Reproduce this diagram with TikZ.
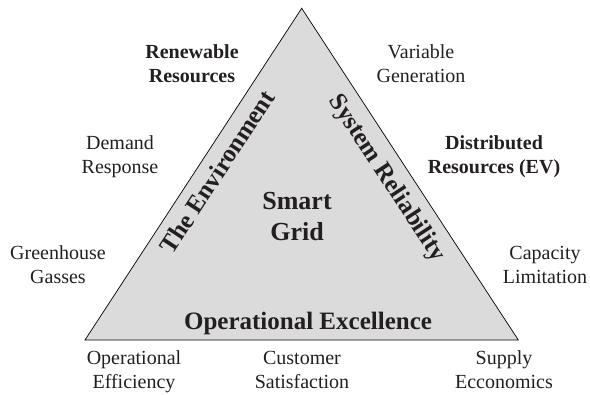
\documentclass[tikz,border=0pt]{standalone}
\usepackage{fontspec}
\setmainfont{Liberation Serif}
\definecolor{cFill}{gray}{0.86}
\definecolor{cText}{HTML}{231F20}

\begin{document}
\begin{tikzpicture}[
  x=1pt, y=1pt,
  factor/.style={
    align=center, inner sep=0pt, text=cText,
    font=\fontsize{20}{24}\selectfont
  },
  keyfactor/.style={
    factor, font=\fontsize{20}{24}\selectfont\bfseries
  },
  side/.style={
    inner sep=0pt, text=cText,
    font=\fontsize{25}{29}\selectfont\bfseries
  },
  core/.style={
    align=center, inner sep=0pt, text=cText,
    font=\fontsize{26}{31}\selectfont\bfseries
  },
]
\useasboundingbox (0,0) rectangle (590,395);

% triangle
\coordinate (apex) at (301.7,386.7);
\coordinate (left) at (85,55);
\coordinate (right) at (518.3,55);
\draw[fill=cFill, line width=0.7pt] (left) -- (apex) -- (right) -- cycle;

% side labels
\node[side, rotate=56.8] (env) at (217,223) {The Environment};
\node[side, rotate=-56.8] (rel) at (386.5,216.8) {System Reliability};
\node[side, anchor=base] (opex) at (308,65.7) {Operational Excellence};

% centre
\node[core] (grid) at (297,176.4) {\strut Smart\\\strut Grid};

% left side factors
\node[keyfactor] (renew) at (192,329.5) {\strut Renewable\\\strut Resources};
\node[factor] (demand) at (120,237.8) {\strut Demand\\\strut Response};
\node[factor] (ghg) at (58,127.8) {\strut Greenhouse\\\strut Gasses};

% right side factors
\node[factor] (var) at (421,329.5) {\strut Variable\\\strut Generation};
\node[keyfactor] (dist) at (494,237.8) {\strut Distributed\\\strut Resources (EV)};
\node[factor] (cap) at (545,127.8) {\strut Capacity\\\strut Limitation};

% bottom factors
\node[factor] (eff) at (134,22.8) {\strut Operational\\\strut Efficiency};
\node[factor] (cust) at (302,22.8) {\strut Customer\\\strut Satisfaction};
\node[factor] (supply) at (504,22.8) {\strut Supply\\\strut Ecconomics};

\end{tikzpicture}
\end{document}
